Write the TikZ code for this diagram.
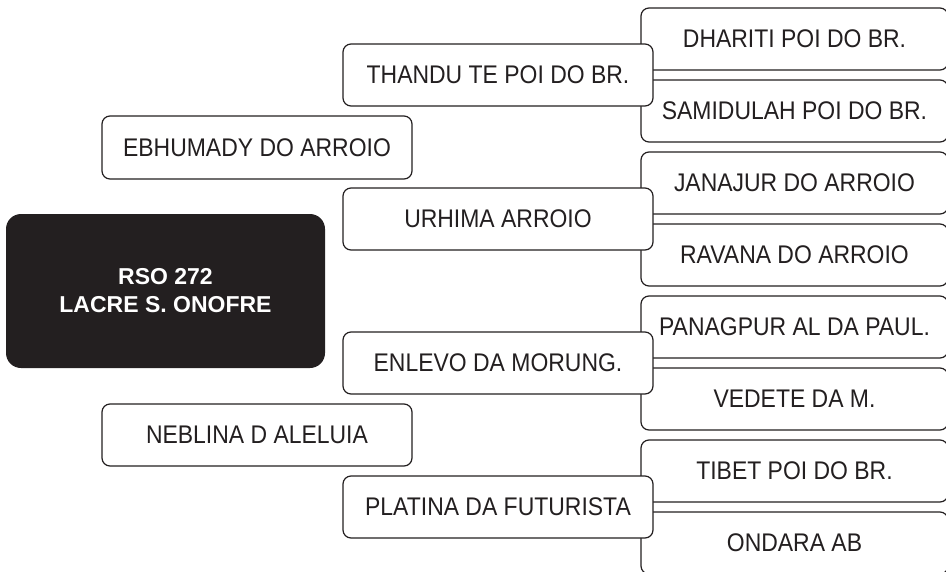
\documentclass[tikz,border=0pt]{standalone}
\usepackage{fontspec}
\setmainfont[FakeStretch=0.9]{Liberation Sans}
\newfontfamily\rootfont{Liberation Sans}
\definecolor{ink}{HTML}{231F20}

\begin{document}
\begin{tikzpicture}[x=1pt,y=-1pt]
  \tikzstyle{every node}+=[inner sep=0pt, text=ink, font=\fontsize{25.5}{28}\selectfont]
  \tikzstyle{namebox}=[draw=ink, line width=1.2pt, fill=white, rounded corners=8pt, minimum width=310pt, minimum height=62pt]
  \tikzstyle{rootbox}=[fill=ink, rounded corners=15pt, minimum width=319pt, minimum height=154pt, text=white, align=center, font=\rootfont\bfseries\fontsize{23}{28}\selectfont]
  \useasboundingbox (0,0) rectangle (946,571);
  % great-grandparents (under the parents)
  \draw (794.5,39) node [namebox, minimum width=307pt] (dhariti) {DHARITI POI DO BR.};
  \draw (794.5,111) node [namebox, minimum width=307pt] (samidulah) {SAMIDULAH POI DO BR.};
  \draw (794.5,183) node [namebox, minimum width=307pt] (janajur) {JANAJUR DO ARROIO};
  \draw (794.5,255) node [namebox, minimum width=307pt] (ravana) {RAVANA DO ARROIO};
  \draw (794.5,327) node [namebox, minimum width=307pt] (panagpur) {PANAGPUR AL DA PAUL.};
  \draw (794.5,399) node [namebox, minimum width=307pt] (vedete) {VEDETE DA M.};
  \draw (794.5,471) node [namebox, minimum width=307pt] (tibet) {TIBET POI DO BR.};
  \draw (794.5,543) node [namebox, minimum width=307pt] (ondara) {ONDARA AB};
  % grandparents
  \draw (498,75) node [namebox] (thandu) {THANDU TE POI DO BR.};
  \draw (498,219) node [namebox] (urhima) {URHIMA ARROIO};
  \draw (498,363) node [namebox] (enlevo) {ENLEVO DA MORUNG.};
  \draw (498,507) node [namebox] (platina) {PLATINA DA FUTURISTA};
  % parents
  \draw (257,147.5) node [namebox, minimum height=63pt] (ebhumady) {EBHUMADY DO ARROIO};
  \draw (257,435) node [namebox] (neblina) {NEBLINA D ALELUIA};
  % the animal
  \draw (165.5,291) node [rootbox] (rso) {RSO 272\\LACRE S. ONOFRE};
\end{tikzpicture}
\end{document}
